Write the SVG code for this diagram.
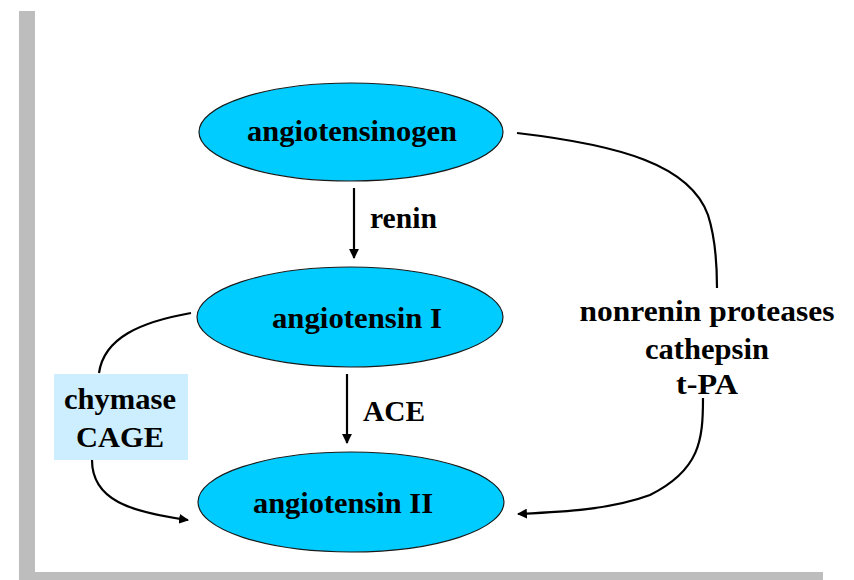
<svg xmlns="http://www.w3.org/2000/svg" width="854" height="580" viewBox="0 0 854 580">
<style>
.frame{fill:#bdbdbd}
.node{fill:#00ccff;stroke:#1a1a1a;stroke-width:1.2}
.lbl{font-family:"Liberation Serif","Times New Roman",serif;font-weight:bold;font-size:29px;fill:#000}
.con{fill:none;stroke:#000;stroke-width:2.2}
</style>
<defs>
<marker id="ah" viewBox="0 0 10 10" refX="9" refY="5" markerWidth="4.5" markerHeight="4.5" orient="auto" markerUnits="strokeWidth">
<path d="M0,0 L10,5 L0,10 z" fill="#000"/>
</marker>
</defs>
<rect width="854" height="580" fill="#fff"/>
<g id="frame">
<rect class="frame" x="19" y="11" width="16" height="569"/>
<rect class="frame" x="19" y="572" width="804" height="8"/>
</g>
<g id="connectors">
<line class="con" x1="354" y1="188" x2="354" y2="258" marker-end="url(#ah)"/>
<line class="con" x1="347" y1="374" x2="347" y2="443" marker-end="url(#ah)"/>
<path class="con" d="M191,313 C140,322 104,338 99,373"/>
<path class="con" d="M92,460 C92,500 130,512 188,520" marker-end="url(#ah)"/>
<path class="con" d="M517,133 C620,145 690,165 708,215 C716,240 717,265 717,288"/>
<path class="con" d="M703,398 C703,440 700,470 650,495 C610,510 560,512 518,514" marker-end="url(#ah)"/>
</g>
<g id="angiotensinogen">
<ellipse class="node" cx="351" cy="132" rx="152" ry="49"/>
<text class="lbl" x="352" y="141" text-anchor="middle" textLength="210" lengthAdjust="spacingAndGlyphs">angiotensinogen</text>
</g>
<g id="angiotensin1">
<ellipse class="node" cx="350" cy="317" rx="153" ry="50"/>
<text class="lbl" x="357" y="328" text-anchor="middle" textLength="170" lengthAdjust="spacingAndGlyphs">angiotensin I</text>
</g>
<g id="angiotensin2">
<ellipse class="node" cx="351" cy="502" rx="153" ry="50"/>
<text class="lbl" x="343" y="513" text-anchor="middle" textLength="180" lengthAdjust="spacingAndGlyphs">angiotensin II</text>
</g>
<g id="renin">
<text class="lbl" x="370" y="228" textLength="67" lengthAdjust="spacingAndGlyphs">renin</text>
</g>
<g id="ace">
<text class="lbl" x="363" y="421" textLength="62" lengthAdjust="spacingAndGlyphs">ACE</text>
</g>
<g id="chymase">
<rect x="54" y="374" width="134" height="86" fill="#cceeff"/>
<text class="lbl" x="120" y="409" text-anchor="middle" textLength="112" lengthAdjust="spacingAndGlyphs">chymase</text>
<text class="lbl" x="120" y="447" text-anchor="middle" textLength="88" lengthAdjust="spacingAndGlyphs">CAGE</text>
</g>
<g id="nonrenin">
<text class="lbl" x="707" y="321" text-anchor="middle" textLength="255" lengthAdjust="spacingAndGlyphs">nonrenin proteases</text>
<text class="lbl" x="707" y="359" text-anchor="middle" textLength="124" lengthAdjust="spacingAndGlyphs">cathepsin</text>
<text class="lbl" x="707" y="394" text-anchor="middle" textLength="62" lengthAdjust="spacingAndGlyphs">t-PA</text>
</g>
</svg>
